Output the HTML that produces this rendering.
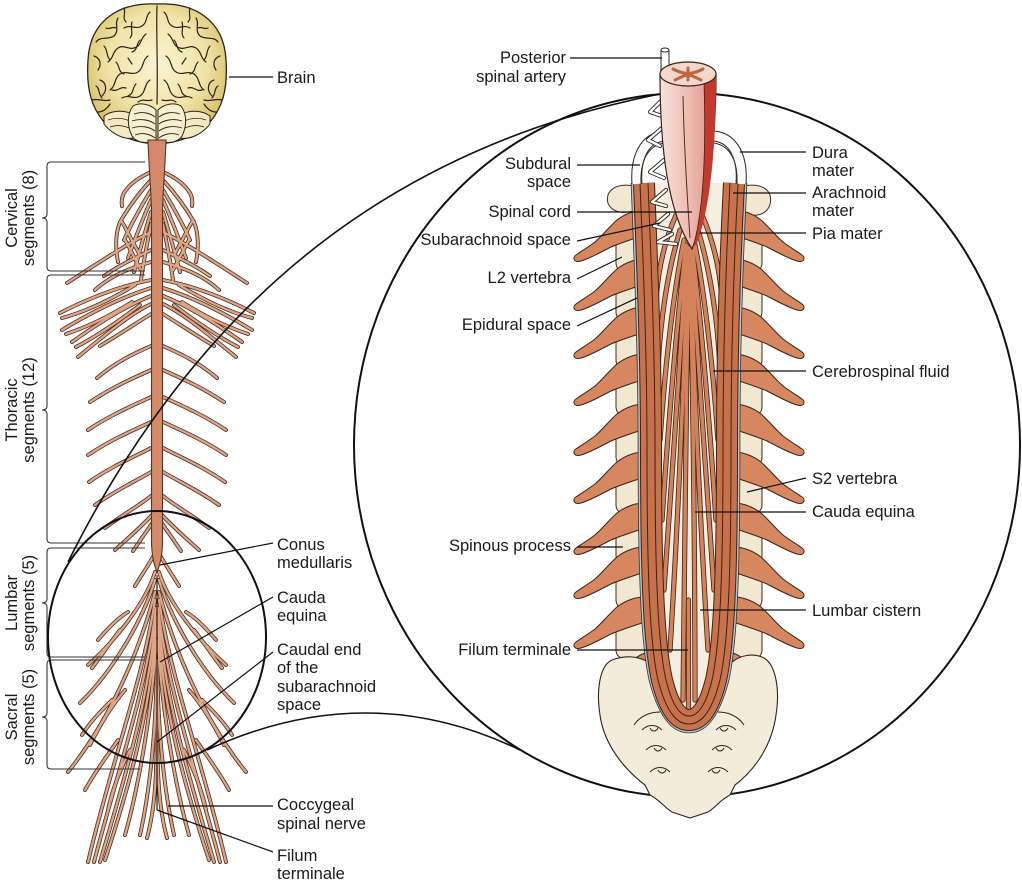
<!DOCTYPE html>
<html><head><meta charset="utf-8">
<style>
html,body{margin:0;padding:0;background:#fff;}
svg{display:block;}
text{font-family:"Liberation Sans",Arial,sans-serif;font-size:16.5px;fill:#1a1a1a;}
</style></head><body>
<svg width="1022" height="883" viewBox="0 0 1022 883" xmlns="http://www.w3.org/2000/svg">
<defs>
 <radialGradient id="brainG" cx="0.5" cy="0.42" r="0.58">
  <stop offset="0" stop-color="#faf3d2"/>
  <stop offset="0.6" stop-color="#f1e4a8"/>
  <stop offset="1" stop-color="#d6bd62"/>
 </radialGradient>
 <linearGradient id="cordG" x1="0" x2="1" y1="0" y2="0">
  <stop offset="0" stop-color="#f8e2dc"/>
  <stop offset="0.55" stop-color="#ecb9b0"/>
  <stop offset="1" stop-color="#dc8e84"/>
 </linearGradient>
 <g id="nL">
  <path d="M151,172 C142,176 132,182 126,190 C122,195 121,200 122,206"/>
  <path d="M151,180 C140,192 128,208 120,222"/>
  <path d="M151,190 C142,205 132,222 124,240"/>
  <path d="M151,200 C144,216 136,236 128,258"/>
  <path d="M151,212 C146,228 140,250 134,272"/>
  <path d="M151,224 C148,240 144,258 141,280"/>
  <path d="M151,232 C125,245 95,265 67,283"/>
  <path d="M122,222 C128,232 134,245 140,255"/>
  <path d="M125,240 C131,250 136,262 141,270"/>
  <path d="M120,222 C116,232 115,246 118,262"/>
  <path d="M151,250 C135,258 118,266 104,276"/>
  <path d="M151,262 C130,268 110,276 95,290"/>
  <path d="M151,280 C125,285 95,295 60,313"/>
  <path d="M151,288 C125,296 95,310 62,330"/>
  <path d="M151,296 C128,305 100,322 72,342"/>
  <path d="M151,304 C130,314 105,335 78,357"/>
  <path d="M151,314 C138,322 120,334 100,346"/>
  <path d="M62,318 C85,312 110,300 135,285"/>
  <path d="M66,334 C90,326 110,316 132,302"/>
  <path d="M76,347 C95,337 115,324 140,305"/>
  <path d="M151,346 C138,352 118,360 97,378"/>
  <path d="M151,370 C136,377 114,386 90,402"/>
  <path d="M151,397 C136,404 112,414 88,430"/>
  <path d="M151,422 C136,429 112,439 88,455"/>
  <path d="M151,448 C136,456 112,466 89,482"/>
  <path d="M151,472 C138,480 116,490 95,505"/>
  <path d="M151,496 C140,505 122,515 105,528"/>
  <path d="M152,515 C140,528 126,540 115,550"/>
  <path d="M153,522 C146,532 139,542 133,551"/>
  <path d="M154,555 C148,566 141,576 135,586"/>
  <path d="M155,572 C146,602 116,640 88,665"/>
  <path d="M155,580 C142,622 112,672 80,703"/>
  <path d="M155,592 C140,650 110,720 68,772"/>
  <path d="M155,600 C143,680 112,760 88,862"/>
  <path d="M156,608 C146,690 118,770 94,862"/>
  <path d="M156,616 C149,700 124,780 100,862"/>
  <path d="M156,626 C151,710 128,790 105,860"/>
  <path d="M156,640 C152,720 135,800 125,835"/>
  <path d="M157,660 C156,730 150,790 140,835"/>
  <path d="M157,700 C157,770 156,805 147,838"/>
  <path d="M120,630 C112,640 102,655 92,668"/>
  <path d="M128,612 C118,618 108,628 98,640"/>
  <path d="M112,700 C100,712 90,722 82,735"/>
  <path d="M125,690 C112,705 100,725 90,745"/>
  <path d="M118,740 C108,755 96,770 85,790"/>
  <path d="M130,750 C120,770 112,790 108,810"/>
 </g>
 <g id="gyri">
  <path d="M150,12 C145,16 148,22 142,26 C136,30 130,24 124,28"/>
  <path d="M118,18 C114,24 120,30 114,36 C108,40 100,36 96,42"/>
  <path d="M146,34 C140,38 142,46 134,48 C128,50 124,44 118,48 C112,52 114,58 108,62"/>
  <path d="M94,56 C100,58 102,64 98,70"/>
  <path d="M148,56 C142,60 144,68 138,72 C132,76 126,70 120,74 C114,78 116,86 110,90"/>
  <path d="M100,80 C106,82 108,90 102,96"/>
  <path d="M150,80 C144,84 146,92 140,96 C134,100 128,94 122,98"/>
  <path d="M92,100 C98,98 104,102 110,100"/>
  <path d="M132,22 C130,28 134,34 130,38"/>
  <path d="M128,58 L132,64"/>
  <path d="M110,104 C106,110 102,112 98,112"/>
  <path d="M140,40 C136,44 138,50 132,52"/>
  <path d="M104,46 C108,50 106,56 110,60"/>
  <path d="M116,62 C120,66 118,72 124,74"/>
  <path d="M96,86 C100,88 98,94 102,98"/>
  <path d="M136,84 C132,88 134,94 128,96"/>
  <path d="M112,90 C118,92 120,86 126,88"/>
  <path d="M124,8 C126,14 122,18 126,22"/>
  <path d="M106,28 C110,30 112,26 116,28"/>
  <path d="M152,100 C146,102 144,98 138,102"/>
 </g>
 <path id="procL" d="M648,-48 C638,-49 626,-45 617,-38 C609,-31 603,-23 595,-16 C587,-10 580,-6 576,-3 C572,0 574,5 581,3 C591,0 601,-6 611,-11 C623,-16 636,-20 648,-24 Z"/>
 <rect id="blkL" x="616" y="-30" width="38" height="44" rx="9"/>
</defs>

<rect width="1022" height="883" fill="#fff"/>

<!-- ===== LEFT FIGURE ===== -->
<path d="M157,4 C120,2 90,20 88,60 C86,90 92,108 104,122 C115,135 135,143 157,144 C179,143 199,135 210,122 C222,108 228,90 226,60 C224,20 194,2 157,4 Z" fill="url(#brainG)" stroke="#2a2418" stroke-width="1.3"/>
<g fill="none" stroke="#2a2418" stroke-width="1.2" stroke-linecap="round">
 <use href="#gyri"/>
 <use href="#gyri" transform="matrix(-1 0 0 1 314 0)"/>
 <path d="M157,6 C156,30 158,60 157,104"/>
</g>
<g fill="#f3eac4" stroke="#2a2418" stroke-width="1">
 <path d="M104,116 C112,110 124,110 132,114 L134,138 C124,140 112,134 104,124 Z"/>
 <path d="M210,116 C202,110 190,110 182,114 L180,138 C190,140 202,134 210,124 Z"/>
</g>
<g fill="none" stroke="#2a2418" stroke-width="0.8">
 <path d="M108,120 C116,117 124,118 132,122"/><path d="M110,127 C118,124 126,126 133,130"/>
 <path d="M206,120 C198,117 190,118 182,122"/><path d="M204,127 C196,124 188,126 181,130"/>
</g>
<g stroke="#2a2418" stroke-width="1">
 <path d="M133,106 C140,102 150,104 156,110 L156,140 C146,145 136,142 132,136 C127,126 127,114 133,106 Z" fill="#f6efd2"/>
 <path d="M181,106 C174,102 164,104 158,110 L158,140 C168,145 178,142 182,136 C187,126 187,114 181,106 Z" fill="#f6efd2"/>
</g>
<g fill="none" stroke="#2a2418" stroke-width="0.9">
 <path d="M134,114 C142,111 150,113 155,117"/><path d="M132,121 C140,118 150,120 155,124"/><path d="M132,128 C141,125 150,127 155,131"/><path d="M135,135 C142,132 150,134 155,138"/>
 <path d="M180,114 C172,111 164,113 159,117"/><path d="M182,121 C174,118 164,120 159,124"/><path d="M182,128 C173,125 164,127 159,131"/><path d="M179,135 C172,132 164,134 159,138"/>
</g>

<g fill="none" stroke-linecap="round">
 <g stroke="#4a2e20" stroke-width="3.9"><use href="#nL"/><use href="#nL" transform="matrix(-1 0 0 1 314 0)"/></g>
 <g stroke="#dea587" stroke-width="2.3"><use href="#nL"/><use href="#nL" transform="matrix(-1 0 0 1 314 0)"/></g>
</g>
<path d="M148,140 C149,170 151,190 151.5,210 L151.5,540 C151.5,555 154,565 157,572 C160,565 162.5,555 162.5,540 L162.5,210 C163,190 165,170 166,140 Z" fill="#d4896b" stroke="#5a3424" stroke-width="1.1"/>
<path d="M157,575 L157,810" stroke="#2a1a12" stroke-width="1.2"/>

<g fill="none" stroke="#333" stroke-width="1.1">
 <path d="M145,162 L51,162 Q47,162 47,166 L47,214 Q47,218 42,218 Q47,218 47,222 L47,267 Q47,271 51,271 L145,271"/>
 <path d="M145,275 L51,275 Q47,275 47,279 L47,406 Q47,410 42,410 Q47,410 47,414 L47,539 Q47,543 51,543 L145,543"/>
 <path d="M145,548 L51,548 Q47,548 47,552 L47,599 Q47,603 42,603 Q47,603 47,607 L47,653 Q47,657 51,657 L145,657"/>
 <path d="M145,660 L51,660 Q47,660 47,664 L47,713 Q47,717 42,717 Q47,717 47,721 L47,765 Q47,769 51,769 L140,769"/>
</g>
<text transform="translate(17,218) rotate(-90)" text-anchor="middle">Cervical</text>
<text transform="translate(34,218) rotate(-90)" text-anchor="middle">segments (8)</text>
<text transform="translate(17,410) rotate(-90)" text-anchor="middle">Thoracic</text>
<text transform="translate(34,410) rotate(-90)" text-anchor="middle">segments (12)</text>
<text transform="translate(17,603) rotate(-90)" text-anchor="middle">Lumbar</text>
<text transform="translate(34,603) rotate(-90)" text-anchor="middle">segments (5)</text>
<text transform="translate(17,717) rotate(-90)" text-anchor="middle">Sacral</text>
<text transform="translate(34,717) rotate(-90)" text-anchor="middle">segments (5)</text>

<g fill="none" stroke="#111" stroke-width="2">
 <ellipse cx="157" cy="637" rx="109" ry="126"/>
 <ellipse cx="687" cy="445" rx="333" ry="352"/>
 <path d="M68,562 C208,282 410,144 660,94" stroke-width="1.6"/>
 <path d="M207,750 Q367,676 520,750" stroke-width="1.6"/>
</g>

<g fill="none" stroke="#111" stroke-width="1.2">
 <path d="M229,77 L273,77"/>
 <path d="M160,565 L273,543"/>
 <path d="M160,662 L273,597"/>
 <path d="M157,742 L273,652"/>
 <path d="M168,806 L273,806"/>
 <path d="M157,810 L273,852"/>
</g>
<text x="277" y="83">Brain</text>
<text x="277" y="550">Conus</text><text x="277" y="568">medullaris</text>
<text x="277" y="603">Cauda</text><text x="277" y="621">equina</text>
<text x="277" y="655">Caudal end</text><text x="277" y="673">of the</text><text x="277" y="692">subarachnoid</text><text x="277" y="710">space</text>
<text x="277" y="810">Coccygeal</text><text x="277" y="829">spinal nerve</text>
<text x="277" y="861">Filum</text><text x="277" y="879">terminale</text>

<!-- ===== RIGHT FIGURE ===== -->
<g fill="#f2e8d2" stroke="#3a2d20" stroke-width="1">
 <path d="M642,190 C630,182 612,184 608,195 C605,206 614,214 628,212 L642,210 Z"/>
 <path d="M736,190 C748,182 766,184 770,195 C773,208 764,217 750,215 L736,212 Z"/>
</g>
<g fill="#f2e8d2" stroke="#3a2d20" stroke-width="1">
 <use href="#blkL" transform="translate(0,258)"/><use href="#blkL" transform="translate(0,307)"/><use href="#blkL" transform="translate(0,355)"/>
 <use href="#blkL" transform="translate(0,402)"/><use href="#blkL" transform="translate(0,452)"/><use href="#blkL" transform="translate(0,500)"/>
 <use href="#blkL" transform="translate(0,551)"/><use href="#blkL" transform="translate(0,595)"/><use href="#blkL" transform="translate(0,645)"/>
 <use href="#blkL" transform="translate(1378,258) scale(-1,1)"/><use href="#blkL" transform="translate(1378,307) scale(-1,1)"/><use href="#blkL" transform="translate(1378,355) scale(-1,1)"/>
 <use href="#blkL" transform="translate(1378,402) scale(-1,1)"/><use href="#blkL" transform="translate(1378,452) scale(-1,1)"/><use href="#blkL" transform="translate(1378,500) scale(-1,1)"/>
 <use href="#blkL" transform="translate(1378,551) scale(-1,1)"/><use href="#blkL" transform="translate(1378,595) scale(-1,1)"/><use href="#blkL" transform="translate(1378,645) scale(-1,1)"/>
</g>
<g fill="#d6875f" stroke="#3a2418" stroke-width="1">
 <use href="#procL" transform="translate(0,258)"/><use href="#procL" transform="translate(0,307)"/><use href="#procL" transform="translate(0,355)"/>
 <use href="#procL" transform="translate(0,402)"/><use href="#procL" transform="translate(0,452)"/><use href="#procL" transform="translate(0,500)"/>
 <use href="#procL" transform="translate(0,551)"/><use href="#procL" transform="translate(0,595)"/><use href="#procL" transform="translate(0,645)"/>
 <use href="#procL" transform="translate(1378,258) scale(-1,1)"/><use href="#procL" transform="translate(1378,307) scale(-1,1)"/><use href="#procL" transform="translate(1378,355) scale(-1,1)"/>
 <use href="#procL" transform="translate(1378,402) scale(-1,1)"/><use href="#procL" transform="translate(1378,452) scale(-1,1)"/><use href="#procL" transform="translate(1378,500) scale(-1,1)"/>
 <use href="#procL" transform="translate(1378,551) scale(-1,1)"/><use href="#procL" transform="translate(1378,595) scale(-1,1)"/><use href="#procL" transform="translate(1378,645) scale(-1,1)"/>
 <path d="M648,652 C638,655 628,662 624,672 C630,675 640,670 650,666 Z"/>
 <path d="M730,652 C740,655 750,662 754,672 C748,675 738,670 728,666 Z"/>
</g>
<path d="M612,660 C600,665 596,690 600,715 C604,745 625,770 645,785 L650,795 C660,800 665,808 672,812 L690,818 L708,812 C715,808 720,800 730,795 L735,785 C755,770 772,745 776,715 C780,690 776,665 764,658 C752,652 740,656 732,662 L648,662 C638,656 625,655 612,660 Z" fill="#f4ecdb" stroke="#2f251a" stroke-width="1.1"/>
<g fill="none" stroke="#2f251a" stroke-width="1">
 <path d="M634,725 C640,716 650,712 660,712"/><path d="M744,725 C738,716 728,712 718,712"/>
 <path d="M642,730 C648,724 656,724 662,730 M650,728 C652,732 656,732 658,728"/>
 <path d="M646,750 C652,744 660,744 666,750 M654,748 C656,752 660,752 662,748"/>
 <path d="M650,772 C656,766 664,766 670,772 M658,770 C660,774 664,774 666,770"/>
 <path d="M736,730 C730,724 722,724 716,730 M728,728 C726,732 722,732 720,728"/>
 <path d="M732,750 C726,744 718,744 712,750 M724,748 C722,752 718,752 716,748"/>
 <path d="M728,772 C722,766 714,766 708,772 M720,770 C718,774 714,774 712,770"/>
</g>

<path d="M644,183 C647,260 651,350 651,450 C651,560 653,640 662,680 C670,712 680,720 689,720 C698,720 708,712 716,680 C725,640 727,560 727,450 C727,350 730,260 734,183 Z" fill="#f6eee0"/>

<g fill="none" stroke-linecap="round">
 <g stroke="#3a2418" stroke-width="5.2">
  <path d="M676,215 C665,240 658,270 656,300"/><path d="M680,230 C668,270 660,320 658,370"/>
  <path d="M684,240 C672,300 664,380 660,440"/><path d="M686,245 C676,330 668,430 662,520"/>
  <path d="M687,247 C680,360 672,480 664,590"/><path d="M688,248 C684,380 678,520 670,650"/>
  <path d="M689,248 C686,400 684,560 683,700"/><path d="M690,248 C693,400 695,560 695,700"/>
  <path d="M702,215 C713,240 720,270 722,300"/><path d="M698,230 C710,270 718,320 720,370"/>
  <path d="M694,240 C706,300 714,380 718,440"/><path d="M692,245 C702,330 710,430 716,520"/>
  <path d="M691,247 C698,360 706,480 714,590"/><path d="M690,248 C694,380 700,520 708,650"/>
  <path d="M688.5,600 L688.5,714"/>
 </g>
 <g stroke="#d4825b" stroke-width="3.6">
  <path d="M676,215 C665,240 658,270 656,300"/><path d="M680,230 C668,270 660,320 658,370"/>
  <path d="M684,240 C672,300 664,380 660,440"/><path d="M686,245 C676,330 668,430 662,520"/>
  <path d="M687,247 C680,360 672,480 664,590"/><path d="M688,248 C684,380 678,520 670,650"/>
  <path d="M689,248 C686,400 684,560 683,700"/><path d="M690,248 C693,400 695,560 695,700"/>
  <path d="M702,215 C713,240 720,270 722,300"/><path d="M698,230 C710,270 718,320 720,370"/>
  <path d="M694,240 C706,300 714,380 718,440"/><path d="M692,245 C702,330 710,430 716,520"/>
  <path d="M691,247 C698,360 706,480 714,590"/><path d="M690,248 C694,380 700,520 708,650"/>
  <path d="M688.5,600 L688.5,714"/>
 </g>
</g>

<g fill="none">
 <path d="M633,183 C636,260 640,350 640,450 C640,560 642,640 651,680 C662.3,723 676.7,731 689,731 C701.3,731 715.7,723 727,680 C736,640 738,560 738,450 C738,350 741,260 745,183" stroke="#3a3028" stroke-width="4.6"/>
 <path d="M633,183 C636,260 640,350 640,450 C640,560 642,640 651,680 C662.3,723 676.7,731 689,731 C701.3,731 715.7,723 727,680 C736,640 738,560 738,450 C738,350 741,260 745,183" stroke="#b7c2cc" stroke-width="3"/>
 <path d="M644,183 C647,260 651,350 651,450 C651,560 653,640 662,680 C670,712 680,720 689,720 C698,720 708,712 716,680 C725,640 727,560 727,450 C727,350 730,260 734,183" stroke="#3a2418" stroke-width="22"/>
 <path d="M644,183 C647,260 651,350 651,450 C651,560 653,640 662,680 C670,712 680,720 689,720 C698,720 708,712 716,680 C725,640 727,560 727,450 C727,350 730,260 734,183" stroke="#c9734c" stroke-width="20"/>
 <path d="M640,183 C643,260 647,350 647,450 C647,560 649,640 658,680 C667.2,716 678.8,724 689,724 C699.2,724 710.8,716 720,680 C729,640 731,560 731,450 C731,350 734,260 738,183" stroke="#3a2418" stroke-width="1"/>
 <path d="M648,183 C651,260 655,350 655,450 C655,560 657,640 666,680 C672.8,708 681.2,716 689,716 C696.8,716 705.2,708 712,680 C721,640 723,560 723,450 C723,350 726,260 730,183" stroke="#3a2418" stroke-width="1"/>
</g>

<g fill="none" stroke-linecap="butt">
 <path d="M637,184 C635,158 644,138 664,136" stroke="#2e2620" stroke-width="11"/>
 <path d="M637,184 C635,158 644,138 664,136" stroke="#fbfbfb" stroke-width="9"/>
 <path d="M641,184 C640,162 647,146 664,143" stroke="#2e2620" stroke-width="0.9"/>
 <path d="M741,184 C743,158 734,138 714,136" stroke="#2e2620" stroke-width="11"/>
 <path d="M741,184 C743,158 734,138 714,136" stroke="#fbfbfb" stroke-width="9"/>
 <path d="M737,184 C738,162 731,146 714,143" stroke="#2e2620" stroke-width="0.9"/>
</g>

<g fill="none" stroke-linecap="round" stroke-linejoin="round">
 <g stroke="#2e2620" stroke-width="4.2">
  <path d="M662,100 L650,112 L662,116"/><path d="M662,128 L648,140 L660,146"/>
  <path d="M664,160 L650,172 L664,178"/><path d="M666,190 L652,202 L666,206"/>
  <path d="M668,214 L654,226 L670,230"/><path d="M672,234 L658,242 L676,244"/>
 </g>
 <g stroke="#ffffff" stroke-width="2.4">
  <path d="M662,100 L650,112 L662,116"/><path d="M662,128 L648,140 L660,146"/>
  <path d="M664,160 L650,172 L664,178"/><path d="M666,190 L652,202 L666,206"/>
  <path d="M668,214 L654,226 L670,230"/><path d="M672,234 L658,242 L676,244"/>
 </g>
</g>

<rect x="661" y="50" width="8" height="28" fill="#fff" stroke="#2e2620" stroke-width="1"/>
<ellipse cx="665" cy="50" rx="4" ry="2" fill="#fff" stroke="#2e2620" stroke-width="1"/>

<path d="M660,74 C660,150 668,212 692,249 C706,215 716,150 716,74 Z" fill="url(#cordG)" stroke="#3a2418" stroke-width="1.2"/>
<path d="M704,82 C706,150 704,205 694,244 L696,246 C710,210 716,150 716,76 Z" fill="#c4392d"/>
<path d="M683,96 C684,140 686,180 690,238" fill="none" stroke="#5a2a20" stroke-width="1"/>
<path d="M704,82 C706,150 704,205 694,244" fill="none" stroke="#3a2418" stroke-width="0.8"/>
<ellipse cx="688" cy="74" rx="28" ry="12" fill="#f4d8cb" stroke="#3a2418" stroke-width="1.2"/>
<g fill="none" stroke="#bd6641" stroke-width="3" stroke-linecap="round">
 <path d="M673,69 C679,72 684,74 688,73 C692,74 697,72 703,69"/>
 <path d="M675,80 C681,77 685,75 688,75 C691,75 695,77 701,80"/>
 <path d="M688,68 L688,80"/>
</g>

<g fill="none" stroke="#111" stroke-width="1.2">
 <path d="M570,58 L662,58"/>
 <path d="M577,165 L640,165"/>
 <path d="M577,212 L692,212"/>
 <path d="M577,241 L660,223"/>
 <path d="M577,279 L622,257"/>
 <path d="M577,326 L637,298"/>
 <path d="M577,547 L623,547"/>
 <path d="M577,650 L688,650"/>
 <path d="M740,152 L806,152"/>
 <path d="M733,193 L806,193"/>
 <path d="M700,233 L806,233"/>
 <path d="M713,371 L806,371"/>
 <path d="M747,492 L806,478"/>
 <path d="M695,512 L806,512"/>
 <path d="M700,610 L806,610"/>
</g>
<g text-anchor="end">
 <text x="566" y="63">Posterior</text><text x="566" y="82">spinal artery</text>
 <text x="571" y="169">Subdural</text><text x="571" y="187">space</text>
 <text x="571" y="217">Spinal cord</text>
 <text x="571" y="245">Subarachnoid space</text>
 <text x="571" y="283">L2 vertebra</text>
 <text x="571" y="330">Epidural space</text>
 <text x="571" y="551">Spinous process</text>
 <text x="571" y="655">Filum terminale</text>
</g>
<text x="812" y="158">Dura</text><text x="812" y="176">mater</text>
<text x="812" y="198">Arachnoid</text><text x="812" y="216">mater</text>
<text x="812" y="239">Pia mater</text>
<text x="812" y="377">Cerebrospinal fluid</text>
<text x="812" y="484">S2 vertebra</text>
<text x="812" y="517">Cauda equina</text>
<text x="812" y="616">Lumbar cistern</text>
</svg>
</body></html>
